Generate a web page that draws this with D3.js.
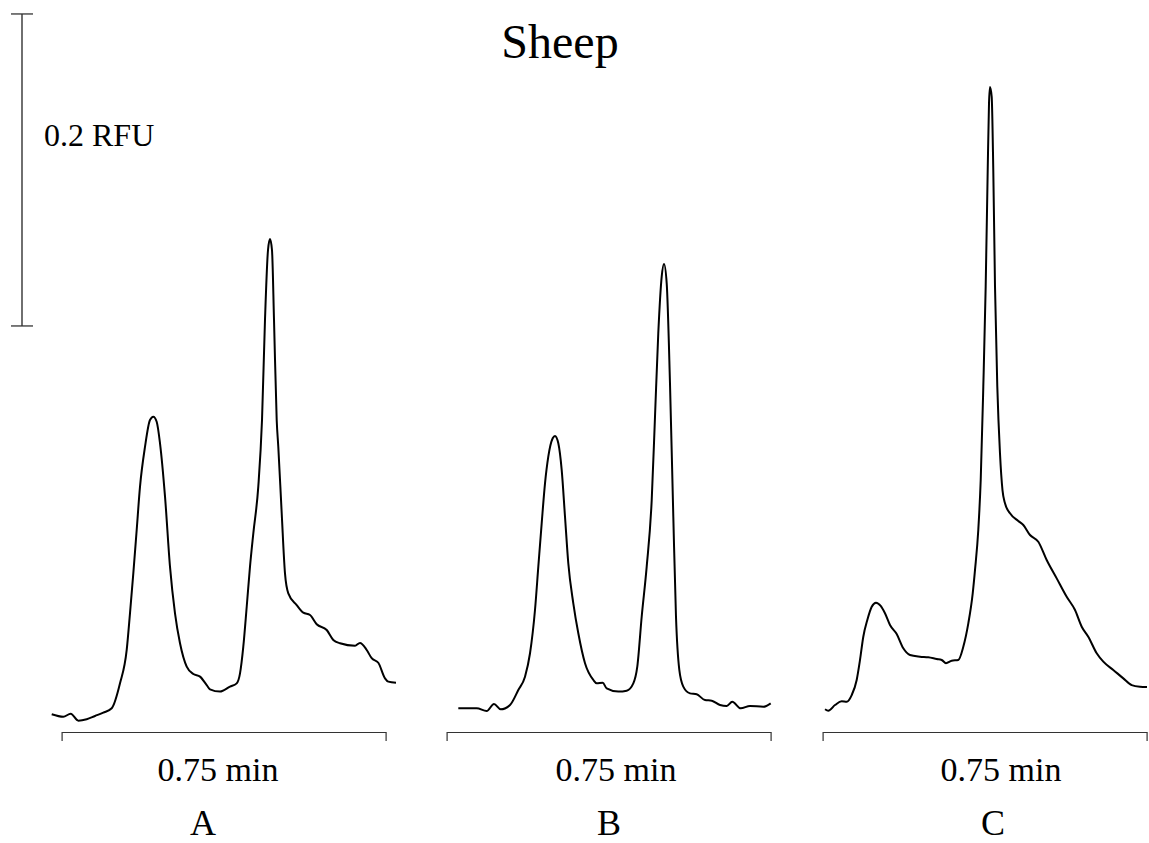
<!DOCTYPE html>
<html>
<head>
<meta charset="utf-8">
<script src="https://cdn.jsdelivr.net/npm/d3@7"></script>
<style>
  html, body { margin: 0; padding: 0; background: #fff; }
  svg { display: block; }
  text { font-family: "Liberation Serif", "Times New Roman", serif; fill: #000; }
</style>
</head>
<body>
<svg id="chart" width="1149" height="843"></svg>
<script>
// ---------- data (time in min, signal in RFU) ----------
const title = "Sheep";
const panelLabels = ["A", "B", "C"];
const timeBarLabel = "0.75 min";
const timeBarStart = 0.05;     // min
const timeBarLength = 0.75;    // min
const rfuBarLabel = "0.2 RFU";
const rfuBarStart = 0.259;     // RFU
const rfuBarLength = 0.2;      // RFU

const timeA = [0.0271,0.0539,0.0711,0.0887,0.1081,0.1273,0.1465,0.1660,0.1852,0.2007,0.2083,0.2160,0.2238,0.2315,0.2431,0.2546,0.2623,0.2701,0.2778,0.2894,0.3009,0.3125,0.3241,0.3396,0.3549,0.3704,0.3859,0.3935,0.4167,0.4398,0.4553,0.4630,0.4706,0.4785,0.4861,0.4938,0.5053,0.5139,0.5208,0.5278,0.5324,0.5370,0.5417,0.5479,0.5516,0.5595,0.5671,0.5748,0.5942,0.6095,0.6250,0.6405,0.6637,0.6789,0.6944,0.7292,0.7407,0.7563,0.7678,0.7831,0.7986,0.8063,0.8241];
const signalA = [0.0101,0.0085,0.0104,0.0060,0.0069,0.0090,0.0111,0.0139,0.0299,0.0513,0.0748,0.1004,0.1282,0.1560,0.1816,0.1987,0.2008,0.1976,0.1838,0.1496,0.1047,0.0748,0.0556,0.0406,0.0359,0.0342,0.0288,0.0261,0.0246,0.0278,0.0299,0.0363,0.0534,0.0790,0.1047,0.1261,0.1560,0.1987,0.2628,0.3077,0.3147,0.3077,0.2628,0.1987,0.1816,0.1389,0.1004,0.0876,0.0801,0.0752,0.0737,0.0678,0.0641,0.0577,0.0556,0.0540,0.0558,0.0513,0.0460,0.0431,0.0331,0.0310,0.0303];

const timeB = [0.0771,0.1197,0.1428,0.1597,0.1752,0.1968,0.2160,0.2315,0.2431,0.2546,0.2623,0.2701,0.2778,0.2854,0.2956,0.3009,0.3086,0.3164,0.3241,0.3317,0.3433,0.3549,0.3704,0.3896,0.3975,0.4113,0.4206,0.4475,0.4669,0.4822,0.4914,0.5016,0.5132,0.5248,0.5324,0.5400,0.5479,0.5532,0.5595,0.5671,0.5748,0.5810,0.5887,0.5979,0.6134,0.6289,0.6481,0.6637,0.6829,0.6984,0.7113,0.7308,0.7523,0.7831,0.8002];
const signalB = [0.0139,0.0139,0.0122,0.0167,0.0133,0.0160,0.0256,0.0342,0.0492,0.0769,0.1047,0.1325,0.1581,0.1752,0.1870,0.1885,0.1838,0.1667,0.1367,0.1069,0.0812,0.0620,0.0428,0.0321,0.0299,0.0303,0.0267,0.0246,0.0252,0.0299,0.0406,0.0726,0.1047,0.1474,0.2008,0.2543,0.2906,0.2987,0.2863,0.2222,0.1367,0.0726,0.0385,0.0278,0.0235,0.0229,0.0192,0.0188,0.0160,0.0154,0.0181,0.0139,0.0154,0.0149,0.0171];

const timeC = [0.0556,0.0632,0.0787,0.0942,0.1058,0.1174,0.1289,0.1366,0.1442,0.1535,0.1637,0.1736,0.1845,0.1944,0.2060,0.2215,0.2368,0.2523,0.2755,0.2947,0.3141,0.3257,0.3356,0.3488,0.3641,0.3757,0.3873,0.3975,0.4028,0.4104,0.4160,0.4220,0.4275,0.4322,0.4352,0.4375,0.4414,0.4451,0.4491,0.4544,0.4606,0.4664,0.4722,0.4838,0.5030,0.5146,0.5301,0.5493,0.5687,0.5919,0.6150,0.6343,0.6498,0.6650,0.6845,0.6998,0.7229,0.7461,0.7655,0.7847,0.8009];
const signalC = [0.0133,0.0124,0.0160,0.0184,0.0181,0.0224,0.0321,0.0449,0.0598,0.0705,0.0790,0.0816,0.0795,0.0748,0.0673,0.0615,0.0524,0.0481,0.0470,0.0466,0.0455,0.0449,0.0428,0.0444,0.0449,0.0534,0.0684,0.0876,0.1026,0.1282,0.1603,0.2201,0.2842,0.3590,0.4017,0.4122,0.4060,0.3590,0.2842,0.2201,0.1774,0.1538,0.1453,0.1389,0.1340,0.1314,0.1250,0.1207,0.1090,0.0972,0.0854,0.0769,0.0662,0.0598,0.0492,0.0438,0.0385,0.0331,0.0288,0.0278,0.0276];

const times = [timeA, timeB, timeC];
const signals = [signalA, signalB, signalC];

// ---------- layout ----------
const svg = d3.select("#chart");
const panelLeft = [40, 425, 801];
const panelWidth = 367.2;           // 0.85 min at 432 px/min
const timeDomain = [0, 0.85];

const y = d3.scaleLinear().domain([0, 0.2]).range([730, 418]);

svg.append("text")
  .attr("x", 560).attr("y", 58)
  .attr("text-anchor", "middle")
  .style("font-size", "48px")
  .text(title);

// RFU scale bar
const rfuG = svg.append("g");
rfuG.append("line")
  .attr("x1", 22).attr("x2", 22)
  .attr("y1", y(rfuBarStart)).attr("y2", y(rfuBarStart + rfuBarLength))
  .attr("stroke", "#222").attr("stroke-width", 1.3);
[rfuBarStart, rfuBarStart + rfuBarLength].forEach(v => {
  rfuG.append("line")
    .attr("x1", 11).attr("x2", 33)
    .attr("y1", y(v)).attr("y2", y(v))
    .attr("stroke", "#333").attr("stroke-width", 1.3);
});
svg.append("text")
  .attr("x", 44).attr("y", 146)
  .style("font-size", "32px")
  .text(rfuBarLabel);

const timeLabelX = [218, 616, 1001];
const letterX = [203, 609, 993];

panelLabels.forEach((lab, i) => {
  const x = d3.scaleLinear().domain(timeDomain)
    .range([panelLeft[i], panelLeft[i] + panelWidth]);

  const data = times[i].map((t, j) => ({ t, v: signals[i][j] }));
  const line = d3.line()
    .x(d => x(d.t)).y(d => y(d.v))
    .curve(d3.curveMonotoneX);

  svg.append("path")
    .datum(data)
    .attr("d", line)
    .attr("fill", "none")
    .attr("stroke", "#000")
    .attr("stroke-width", 2)
    .attr("stroke-linejoin", "round");

  // 0.75 min scale bar, drawn with a D3 axis
  const barScale = d3.scaleLinear()
    .domain([timeBarStart, timeBarStart + timeBarLength])
    .range([x(timeBarStart), x(timeBarStart + timeBarLength)]);
  const axis = d3.axisBottom(barScale)
    .tickValues([timeBarStart, timeBarStart + timeBarLength])
    .tickSize(9).tickSizeOuter(0).tickFormat("");
  const g = svg.append("g")
    .attr("transform", "translate(0,732)")
    .call(axis);
  g.select(".domain").attr("stroke", "#333").attr("stroke-width", 1.2);
  g.selectAll(".tick line").attr("stroke", "#333").attr("stroke-width", 1.2);

  svg.append("text")
    .attr("x", timeLabelX[i]).attr("y", 781)
    .attr("text-anchor", "middle")
    .style("font-size", "34px")
    .text(timeBarLabel);

  svg.append("text")
    .attr("x", letterX[i]).attr("y", 835)
    .attr("text-anchor", "middle")
    .style("font-size", "36px")
    .text(lab);
});
</script>
</body>
</html>
